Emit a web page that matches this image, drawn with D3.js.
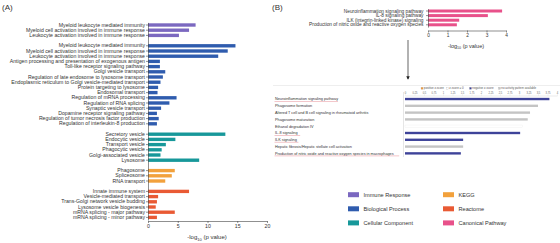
<!DOCTYPE html>
<html>
<head>
<meta charset="utf-8">
<script src="https://cdn.jsdelivr.net/npm/d3@7"></script>
<style>
  body { margin: 0; background: #fff; }
  svg { display: block; font-family: "Liberation Sans", Arial, sans-serif; }
</style>
</head>
<body>
<svg id="fig" width="560" height="243"></svg>
<script>
// ---- panel A data ----
const immuneTerms = ["Myeloid leukocyte mediated immunity", "Myeloid cell activation involved in immune response",
  "Leukocyte activation involved in immune response"];
const immuneValues = [8.0, 6.9, 5.2];

const bioTerms = ["Myeloid leukocyte mediated immunity", "Myeloid cell activation involved in immune response",
  "Leukocyte activation involved in immune response", "Antigen processing and presentation of exogenous antigen",
  "Toll-like receptor signaling pathway", "Golgi vesicle transport",
  "Regulation of late endosome to lysosome transport", "Endoplasmic reticulum to Golgi vesicle-mediated transport",
  "Protein targeting to lysosome", "Endosomal transport", "Regulation of mRNA processing",
  "Regulation of RNA splicing", "Synaptic vesicle transport", "Dopamine receptor signaling pathway",
  "Regulation of tumor necrosis factor production", "Regulation of interleukin-8 production"];
const bioValues = [14.7, 13.4, 11.8, 2.0, 2.0, 2.9, 2.5, 2.1, 1.7, 1.6, 4.8, 3.6, 2.2, 1.5, 1.8, 1.5];

const cellTerms = ["Secretory vesicle", "Endocytic vesicle", "Transport vesicle", "Phagocytic vesicle",
  "Golgi-associated vesicle", "Lysosome"];
const cellValues = [13.0, 4.6, 3.0, 2.3, 2.1, 8.6];

const keggTerms = ["Phagosome", "Spliceosome", "RNA transport"];
const keggValues = [4.5, 4.0, 2.9];

const reactomeTerms = ["Innate immune system", "Vesicle-mediated transport", "Trans-Golgi network vesicle budding",
  "Lysosome vesicle biogenesis", "mRNA splicing - major pathway", "mRNA splicing - minor pathway"];
const reactomeValues = [6.9, 1.7, 1.5, 1.3, 4.5, 1.5];

const xTicksA = [0, 5, 10, 15, 20];

// ---- panel B data ----
const canonTerms = ["Neuroinflammation signaling pathway", "IL-8 signaling pathway",
  "ILK (integrin-linked kinase) signaling", "Production of nitric oxide and reactive oxygen species"];
const canonValues = [3.8, 3.07, 1.6, 1.48];
const xTicksB = [0, 1, 2, 3, 4];

const ipaTerms = ["Neuroinflammation signaling pathway", "Phagosome formation",
  "Altered T cell and B cell signaling in rheumatoid arthritis", "Phagosome maturation",
  "Ethanol degradation IV", "IL-8 signaling", "ILK signaling",
  "Hepatic fibrosis/Hepatic stellate cell activation",
  "Production of nitric oxide and reactive oxygen species in macrophages"];
const ipaValues = [3.8, 3.5, 3.29, 3.23, 3.1, 3.03, 1.53, 1.53, 1.47];
const ipaPattern = ["neg", "none", "none", "none", "zero", "neg", "neg", "none", "neg"];
const ipaHighlighted = [true, false, false, false, false, true, true, false, true];
const ipaTicks = d3.range(0, 4.01, 0.25);
const patternKeys = ["pos", "zero", "neg", "none"];
const patternLabels = ["positive z-score", "z-score = 0", "negative z-score", "no activity pattern available"];
const patternColors = ["#f39a3c", "#ffffff", "#3e4399", "#c4c4c4"];

// ---- legend ----
const categories = ["Immune Response", "Biological Process", "Cellular Component", "KEGG", "Reactome", "Canonical Pathway"];
const catColors = ["#7b68c0", "#2f5cae", "#17989a", "#f2a13c", "#e95a34", "#e8518a"];
const color = d3.scaleOrdinal().domain(categories).range(catColors);

const svg = d3.select("#fig");
const textColor = "#333";

// panel letters
svg.append("text").attr("x", 2).attr("y", 10).attr("font-size", 8).attr("fill", textColor).text("(A)");
svg.append("text").attr("x", 272).attr("y", 10).attr("font-size", 8).attr("fill", textColor).text("(B)");

// ===== panel A =====
const groupsA = [
  { cat: "Immune Response", terms: immuneTerms, values: immuneValues },
  { cat: "Biological Process", terms: bioTerms, values: bioValues },
  { cat: "Cellular Component", terms: cellTerms, values: cellValues },
  { cat: "KEGG", terms: keggTerms, values: keggValues },
  { cat: "Reactome", terms: reactomeTerms, values: reactomeValues }
];
let rowsA = [], keysA = [];
groupsA.forEach((g, gi) => {
  if (gi > 0) keysA.push("gap" + gi);
  g.terms.forEach((t, i) => {
    const key = g.cat + "|" + i;
    keysA.push(key);
    rowsA.push({ key: key, term: t, value: g.values[i], cat: g.cat });
  });
});
const labelOf = new Map(rowsA.map(d => [d.key, d.term]));

const yA = d3.scaleBand().domain(keysA).range([22.4, 220]).paddingInner(0.35).paddingOuter(0.175);
const xA = d3.scaleLinear().domain([0, 20]).range([148, 267]);

const gA = svg.append("g");
gA.selectAll("rect").data(rowsA).enter().append("rect")
  .attr("x", xA(0))
  .attr("y", d => yA(d.key))
  .attr("width", d => xA(d.value) - xA(0))
  .attr("height", yA.bandwidth())
  .attr("fill", d => color(d.cat));

const yAxisA = gA.append("g")
  .attr("transform", `translate(${xA(0)},0)`)
  .call(d3.axisLeft(yA).tickValues(rowsA.map(d => d.key)).tickFormat(k => labelOf.get(k))
    .tickSize(2).tickSizeOuter(0).tickPadding(1));
yAxisA.selectAll("text").attr("font-size", 5.2).attr("fill", textColor);

const xAxisA = gA.append("g")
  .attr("transform", `translate(0,221)`)
  .call(d3.axisBottom(xA).tickValues(xTicksA).tickFormat(d3.format("d"))
    .tickSize(2).tickSizeOuter(0).tickPadding(1.5));
xAxisA.selectAll("text").attr("font-size", 5.2).attr("fill", textColor);
[yAxisA, xAxisA].forEach(a => {
  a.select(".domain").attr("stroke", "#444").attr("stroke-width", 0.6);
  a.selectAll(".tick line").attr("stroke", "#444").attr("stroke-width", 0.6);
});
const titleA = gA.append("text").attr("x", 207).attr("y", 239).attr("text-anchor", "middle")
  .attr("font-size", 6).attr("fill", textColor);
titleA.append("tspan").text("-log");
titleA.append("tspan").attr("font-size", 4).attr("dy", 1.5).text("10");
titleA.append("tspan").attr("dy", -1.5).text(" (p value)");

// ===== panel B top chart =====
const yB = d3.scaleBand().domain(canonTerms).range([8.7, 27.1]).paddingInner(0.35).paddingOuter(0.175);
const xB = d3.scaleLinear().domain([0, 4]).range([428, 506]);
const gB = svg.append("g");
gB.selectAll("rect").data(canonTerms).enter().append("rect")
  .attr("x", xB(0))
  .attr("y", d => yB(d))
  .attr("width", (d, i) => xB(canonValues[i]) - xB(0))
  .attr("height", yB.bandwidth())
  .attr("fill", color("Canonical Pathway"));
const yAxisB = gB.append("g").attr("transform", `translate(${xB(0)},0)`)
  .call(d3.axisLeft(yB).tickSize(2).tickSizeOuter(0).tickPadding(2.5));
yAxisB.selectAll("text").attr("font-size", 4.8).attr("fill", textColor);
const xAxisB = gB.append("g").attr("transform", "translate(0,30.5)")
  .call(d3.axisBottom(xB).tickValues(xTicksB).tickFormat(d3.format("d"))
    .tickSize(2).tickSizeOuter(0).tickPadding(1.5));
xAxisB.selectAll("text").attr("font-size", 4.8).attr("fill", textColor);
[yAxisB, xAxisB].forEach(a => {
  a.select(".domain").attr("stroke", "#444").attr("stroke-width", 0.6);
  a.selectAll(".tick line").attr("stroke", "#444").attr("stroke-width", 0.6);
});
const titleB = gB.append("text").attr("x", 466).attr("y", 48).attr("text-anchor", "middle")
  .attr("font-size", 5.5).attr("fill", textColor);
titleB.append("tspan").text("-log");
titleB.append("tspan").attr("font-size", 3.6).attr("dy", 1.4).text("10");
titleB.append("tspan").attr("dy", -1.4).text(" (p value)");

// arrow
svg.append("defs").append("marker").attr("id", "arr")
  .attr("viewBox", "0 0 10 10").attr("refX", 8).attr("refY", 5)
  .attr("markerWidth", 5).attr("markerHeight", 5).attr("orient", "auto")
  .append("path").attr("d", "M0,0L10,5L0,10Z").attr("fill", "#222");
svg.append("line").attr("x1", 408).attr("x2", 408).attr("y1", 40).attr("y2", 79)
  .attr("stroke", "#222").attr("stroke-width", 0.7).attr("marker-end", "url(#arr)");

// ===== panel B IPA table =====
const gT = svg.append("g");
const yT = d3.scaleBand().domain(ipaTerms).range([95.6, 156.8]).paddingInner(0.65).paddingOuter(0.33);
const xT = d3.scaleLinear().domain([0, 4]).range([405, 557]);
const pColor = d3.scaleOrdinal().domain(patternKeys).range(patternColors);

gT.append("line").attr("x1", 273).attr("x2", 560).attr("y1", 85.5).attr("y2", 85.5)
  .attr("stroke", "#ddd").attr("stroke-width", 0.5);
gT.append("line").attr("x1", 403.5).attr("x2", 403.5).attr("y1", 92).attr("y2", 157)
  .attr("stroke", "#ccc").attr("stroke-width", 0.5);

// table legend
const tl = gT.selectAll(".tl").data(patternKeys).enter().append("g")
  .attr("transform", (d, i) => `translate(${[421, 446.5, 469.5, 498.5][i]},88.3)`);
tl.append("rect").attr("x", 0).attr("y", -1).attr("width", 2).attr("height", 2)
  .attr("fill", d => pColor(d)).attr("stroke", "#999").attr("stroke-width", 0.2);
tl.append("text").attr("x", 2.8).attr("y", 1).attr("font-size", 2.9).attr("fill", "#555")
  .text((d, i) => patternLabels[i]);

const xAxisT = gT.append("g").attr("transform", "translate(0,95.5)")
  .call(d3.axisTop(xT).tickValues(ipaTicks).tickSize(1).tickSizeOuter(0).tickPadding(0.8)
    .tickFormat(d3.format(".2~f")));
xAxisT.selectAll("text").attr("font-size", 2.6).attr("fill", "#666");
xAxisT.select(".domain").attr("stroke", "#ccc").attr("stroke-width", 0.4);
xAxisT.selectAll(".tick line").attr("stroke", "#ccc").attr("stroke-width", 0.4);

gT.selectAll(".bar").data(ipaTerms).enter().append("rect")
  .attr("x", xT(0))
  .attr("y", d => yT(d))
  .attr("width", (d, i) => xT(ipaValues[i]) - xT(0))
  .attr("height", yT.bandwidth())
  .attr("fill", (d, i) => pColor(ipaPattern[i]))
  .attr("stroke", (d, i) => ipaPattern[i] === "zero" ? "#e6e6e6" : "none")
  .attr("stroke-width", 0.3);

gT.selectAll(".lab").data(ipaTerms).enter().append("text")
  .attr("x", 275)
  .attr("y", d => yT(d) + yT.bandwidth() / 2 + 1.3)
  .attr("font-size", 3.8).attr("fill", "#333")
  .text(d => d);
gT.selectAll(".ul").data(ipaTerms.filter((d, i) => ipaHighlighted[i])).enter().append("line")
  .attr("x1", 274.5)
  .attr("x2", function (d) { return 275 + d.length * 1.8; })
  .attr("y1", d => yT(d) + yT.bandwidth() / 2 + 2.5)
  .attr("y2", d => yT(d) + yT.bandwidth() / 2 + 2.5)
  .attr("stroke", "#e0707a").attr("stroke-width", 0.4);

// ===== category legend =====
const lg = svg.append("g").selectAll("g").data(categories).enter().append("g")
  .attr("transform", (d, i) => `translate(${i < 3 ? 348 : 443},${192.2 + (i % 3) * 14.1})`);
lg.append("rect").attr("width", 11).attr("height", 5).attr("fill", d => color(d));
lg.append("text").attr("x", 15.5).attr("y", 4.4).attr("font-size", 5.6).attr("fill", textColor).text(d => d);
</script>
</body>
</html>
